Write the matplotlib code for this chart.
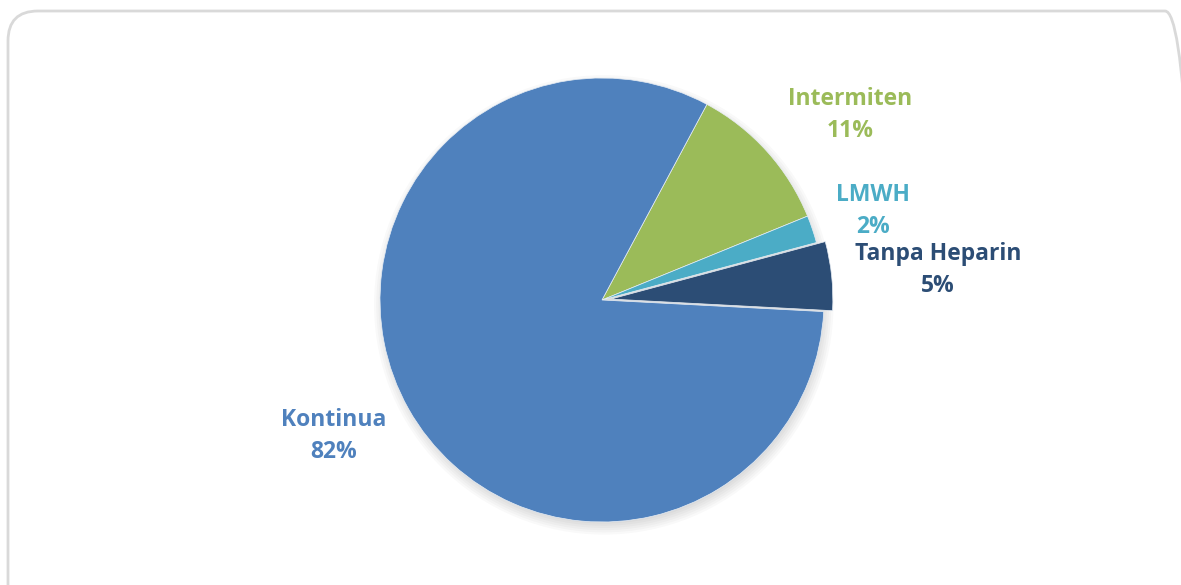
import matplotlib.pyplot as plt
from matplotlib.patches import FancyBboxPatch, Circle
from matplotlib.transforms import IdentityTransform

labels = ['Intermiten', 'LMWH', 'Tanpa Heparin', 'Kontinua']
values = [11, 2, 5, 82]
colors = ['#9BBB59', '#4BACC6', '#2C4D75', '#4F81BD']
explode = [0, 0, 0.04, 0]
# label anchor points, in units of the pie radius
label_pos = [(1.117, 0.835), (1.221, 0.40), (1.514, 0.135), (-1.207, -0.613)]

W, H = 1181, 585
cx, cy, r = 602, 285, 222  # pie centre and radius in pixels (from bottom)

fig = plt.figure(figsize=(W / 100, H / 100), dpi=100)
ax = fig.add_axes([0, 0, 1, 1])

# soft drop shadow, a little below the pie
for k in range(6):
    ax.add_patch(Circle((0.008, -0.022), 0.985 + 0.01 * k, color='black',
                        alpha=0.025, lw=0, zorder=0))

wedges, _ = ax.pie(values, colors=colors, startangle=61.8, counterclock=False,
                   explode=explode, radius=1,
                   wedgeprops=dict(edgecolor='#e8eef5', linewidth=0.5))
for w in wedges:
    w.set_zorder(2)

for (x, y), lab, v, c in zip(label_pos, labels, values, colors):
    ax.text(x, y, f'{lab}\n{v}%', color=c, ha='center', va='center',
            fontsize=16.5, fontweight='bold', family='Open Sans',
            linespacing=1.45, zorder=3)

ax.set_xlim(-cx / r, (W - cx) / r)
ax.set_ylim(-cy / r, (H - cy) / r)
ax.set_aspect('auto')
ax.axis('off')

# rounded chart-area border
border = FancyBboxPatch((8, -40), 1187, H - 11 + 40,
                        boxstyle='round,pad=0,rounding_size=30',
                        transform=IdentityTransform(), fill=False,
                        edgecolor='#d9d9d9', linewidth=2)
fig.patches.append(border)

fig.savefig('out.png', dpi=100)
